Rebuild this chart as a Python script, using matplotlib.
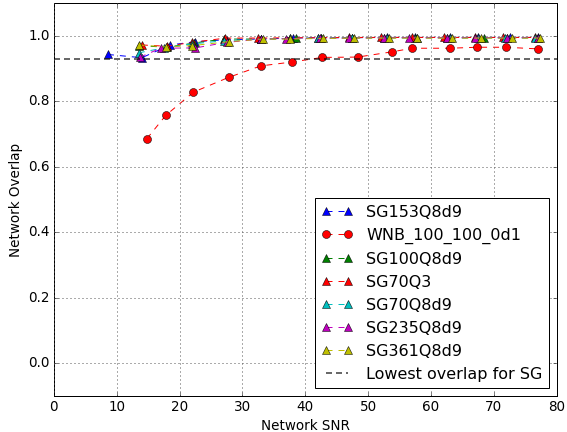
import matplotlib
matplotlib.use("Agg")
import matplotlib.pyplot as plt

plt.style.use("classic")

# WNB reference waveform
wnb_snr = [14.8, 17.8, 22.2, 27.8, 32.9, 37.9, 42.7, 48.3, 53.8, 57.0, 63.0, 67.3, 71.9, 77.0]
wnb_overlap = [0.686, 0.757, 0.828, 0.873, 0.908, 0.920, 0.934, 0.935, 0.951, 0.962, 0.962, 0.965, 0.965, 0.960]

# Sine-Gaussian waveforms
sg153_snr = [8.6, 14.0, 18.5, 22.5, 27.5, 33.0, 38.0, 42.5, 47.5, 53.0, 57.5, 63.0, 67.5, 72.5, 77.0]
sg153_overlap = [0.943, 0.933, 0.972, 0.982, 0.988, 0.990, 0.993, 0.994, 0.994, 0.995, 0.995, 0.995, 0.995, 0.995, 0.995]

sg100_snr = [13.5, 18.0, 22.3, 27.0, 33.0, 38.5, 42.5, 47.5, 52.5, 57.5, 62.5, 68.5, 72.0, 77.0]
sg100_overlap = [0.970, 0.965, 0.978, 0.990, 0.990, 0.992, 0.993, 0.994, 0.994, 0.994, 0.994, 0.994, 0.994, 0.994]

sg70q3_snr = [14.0, 18.0, 22.0, 27.3, 32.5, 37.5, 42.0, 47.0, 52.0, 57.0, 62.0, 67.0, 71.5, 76.5]
sg70q3_overlap = [0.972, 0.968, 0.980, 0.993, 0.993, 0.994, 0.994, 0.995, 0.995, 0.995, 0.995, 0.995, 0.995, 0.995]

sg70_snr = [13.5, 17.5, 22.0, 27.0, 33.0, 37.5, 42.0, 47.5, 53.0, 57.7, 63.0, 67.5, 71.8, 76.5]
sg70_overlap = [0.948, 0.963, 0.975, 0.985, 0.990, 0.992, 0.993, 0.994, 0.994, 0.994, 0.994, 0.994, 0.994, 0.994]

sg235_snr = [13.7, 17.0, 22.5, 27.5, 33.0, 37.0, 42.3, 47.0, 52.5, 56.5, 62.5, 67.0, 72.0, 77.0]
sg235_overlap = [0.935, 0.962, 0.963, 0.980, 0.990, 0.991, 0.993, 0.993, 0.994, 0.994, 0.994, 0.994, 0.994, 0.994]

sg361_snr = [13.5, 17.8, 22.0, 27.8, 33.2, 37.5, 42.8, 47.7, 53.3, 57.8, 63.3, 68.0, 72.8, 77.3]
sg361_overlap = [0.972, 0.966, 0.970, 0.982, 0.990, 0.990, 0.992, 0.993, 0.993, 0.993, 0.993, 0.993, 0.993, 0.993]

lowest_sg_overlap = 0.93

fig = plt.figure(figsize=(7.875, 6), dpi=72, facecolor="white")
ax = fig.add_axes([0.095, 0.083, 0.887, 0.91])

ms = 8
ax.plot(sg153_snr, sg153_overlap, "b^--", ms=ms, label="SG153Q8d9")
ax.plot(wnb_snr, wnb_overlap, "ro--", ms=ms, label="WNB_100_100_0d1")
ax.plot(sg100_snr, sg100_overlap, "g^--", ms=ms, label="SG100Q8d9")
ax.plot(sg70q3_snr, sg70q3_overlap, "r^--", ms=ms, label="SG70Q3")
ax.plot(sg70_snr, sg70_overlap, "c^--", ms=ms, label="SG70Q8d9")
ax.plot(sg235_snr, sg235_overlap, "m^--", ms=ms, label="SG235Q8d9")
ax.plot(sg361_snr, sg361_overlap, "y^--", ms=ms, label="SG361Q8d9")
ax.axhline(lowest_sg_overlap, color="k", ls="--", lw=1.8, alpha=0.65,
           dashes=(6, 4), label="Lowest overlap for SG")

ax.set_xlim(0, 80)
ax.set_ylim(-0.1, 1.1)
ax.set_xticks(range(0, 81, 10))
ax.set_yticks([0.0, 0.2, 0.4, 0.6, 0.8, 1.0])
ax.tick_params(labelsize=13.5)
ax.grid(True, color="0.35", linestyle=(0, (1, 3)), lw=1)
ax.set_xlabel("Network SNR", fontsize=13.5)
ax.set_ylabel("Network Overlap", fontsize=13.5)

ax.legend(loc="lower right", numpoints=2, fontsize=16)

fig.savefig("out.png", dpi=72, facecolor="white")
